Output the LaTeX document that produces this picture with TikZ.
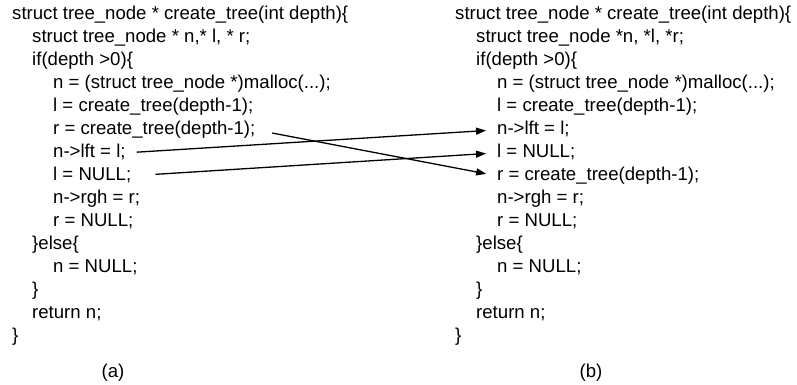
\documentclass[tikz,border=0pt]{standalone}
\usepackage{fontspec}
\setmainfont{Liberation Sans}
\usetikzlibrary{arrows.meta}
\begin{document}
\begin{tikzpicture}[x=1pt,y=-1pt,
  code/.style={anchor=base west, inner sep=0pt, font=\fontsize{18.6}{22}\selectfont, text height=13.3pt, text depth=4pt},
  capt/.style={anchor=base, inner sep=0pt, font=\fontsize{18.6}{22}\selectfont},
  link/.style={line width=1.3pt, -{Triangle[length=10pt,width=7pt]}}]
\useasboundingbox (0,0) rectangle (797,385);
% left column (a)
\node[code] (a1)  at (12,19.5)  {struct tree\_node * create\_tree(int depth)\{};
\node[code] (a2)  at (32,42.5)  {struct tree\_node * n,* l, * r;};
\node[code] (a3)  at (32,65.5)  {if(depth >0)\{};
\node[code] (a4)  at (53,88.5)  {n = (struct tree\_node *)malloc(...);};
\node[code] (a5)  at (53,111.5) {l = create\_tree(depth-1);};
\node[code] (a6)  at (53,134.5) {r = create\_tree(depth-1);};
\node[code] (a7)  at (53,157.5) {n->lft = l;};
\node[code] (a8)  at (53,180.5) {l = NULL;};
\node[code] (a9)  at (53,203.5) {n->rgh = r;};
\node[code] (a10) at (53,226.5) {r = NULL;};
\node[code] (a11) at (32,249.5) {\}else\{};
\node[code] (a12) at (53,272.5) {n = NULL;};
\node[code] (a13) at (32,295.5) {\}};
\node[code] (a14) at (32,318.5) {return n;};
\node[code] (a15) at (12,341.5) {\}};
\node[capt] (capa) at (113,377) {(a)};
% right column (b)
\node[code] (b1)  at (455,19.5)  {struct tree\_node * create\_tree(int depth)\{};
\node[code] (b2)  at (476,42.5)  {struct tree\_node *n, *l, *r;};
\node[code] (b3)  at (476,65.5)  {if(depth >0)\{};
\node[code] (b4)  at (497,88.5)  {n = (struct tree\_node *)malloc(...);};
\node[code] (b5)  at (497,111.5) {l = create\_tree(depth-1);};
\node[code] (b6)  at (497,134.5) {n->lft = l;};
\node[code] (b7)  at (497,157.5) {l = NULL;};
\node[code] (b8)  at (497,180.5) {r = create\_tree(depth-1);};
\node[code] (b9)  at (497,203.5) {n->rgh = r;};
\node[code] (b10) at (497,226.5) {r = NULL;};
\node[code] (b11) at (476,249.5) {\}else\{};
\node[code] (b12) at (497,272.5) {n = NULL;};
\node[code] (b13) at (476,295.5) {\}};
\node[code] (b14) at (476,318.5) {return n;};
\node[code] (b15) at (455,341.5) {\}};
\node[capt] (capb) at (591,377) {(b)};
% arrows
\draw[link, shorten <=17pt, shorten >=11pt] (a6.east) -- (b8.west);
\draw[link, shorten <=11pt, shorten >=11pt] (a7.east) -- (b6.west);
\draw[link, shorten <=24pt, shorten >=11pt] (a8.east) -- (b7.west);
\end{tikzpicture}
\end{document}
